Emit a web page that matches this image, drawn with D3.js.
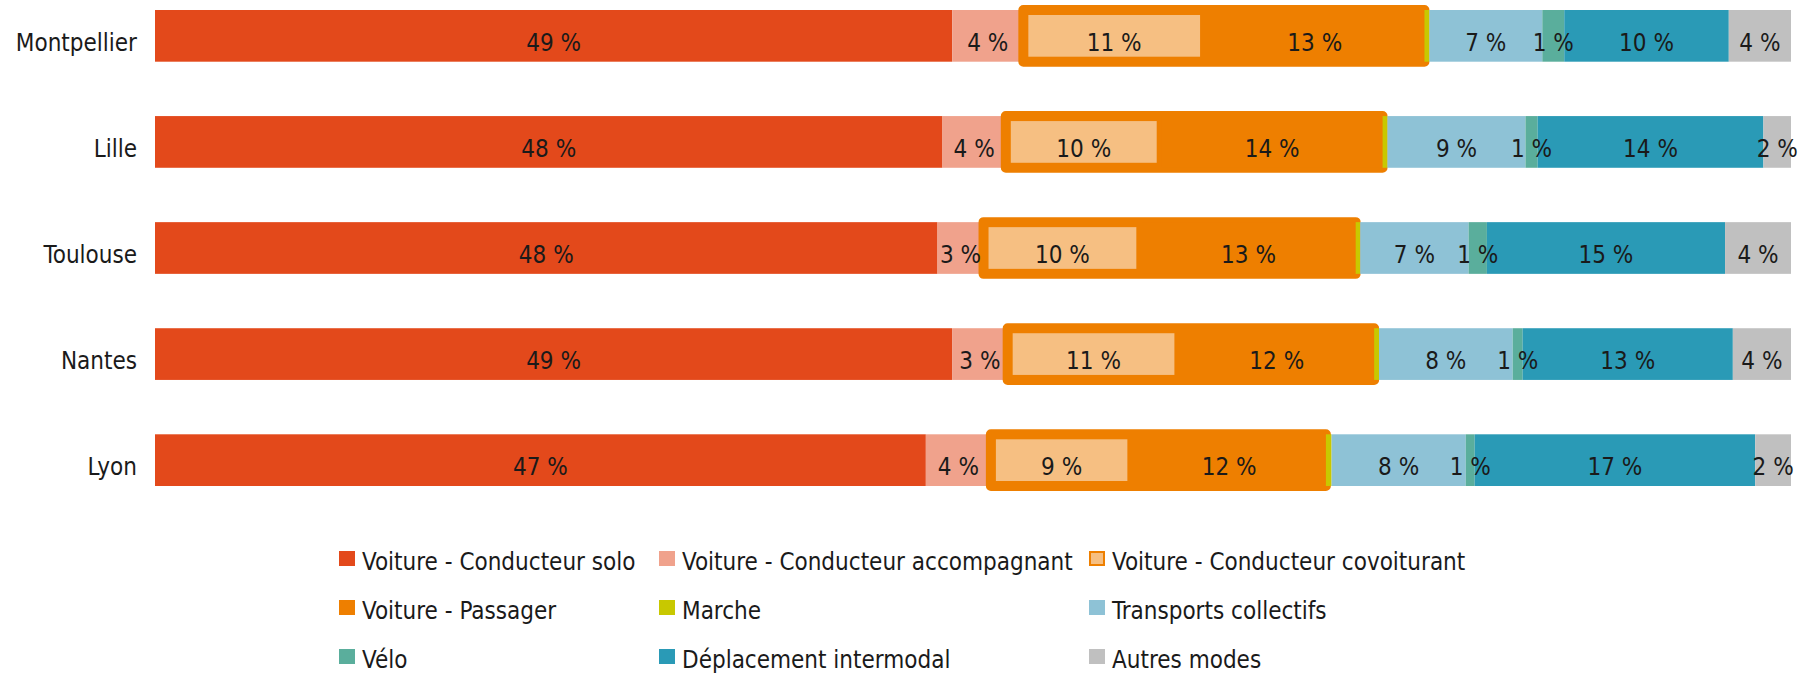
<!DOCTYPE html>
<meta charset="utf-8">
<script src="https://d3js.org/d3.v7.min.js"></script>
<style>
  body { margin: 0; background: #fff; }
  text { font-family: "DejaVu Sans Condensed", "DejaVu Sans", sans-serif; font-stretch: condensed; font-size: 24px; fill: #1a1a1a; }
</style>
<svg id="chart" width="1804" height="673"></svg>
<script>
// cities, top to bottom
const cities = ["Montpellier", "Lille", "Toulouse", "Nantes", "Lyon"];

// transport modes, in stacking order
const modes = [
  "Voiture - Conducteur solo",
  "Voiture - Conducteur accompagnant",
  "Voiture - Conducteur covoiturant",
  "Voiture - Passager",
  "Marche",
  "Transports collectifs",
  "Vélo",
  "Déplacement intermodal",
  "Autres modes"
];

// share of trips per mode (%), one value per city
const solo       = [48.7, 48.49, 48.3, 49.2, 47.4];
const accomp     = [4.34, 3.9, 2.84, 3.43, 4.0];
const covoit     = [11.1, 9.6, 9.74, 10.6, 8.7];
const passager   = [13.4, 13.6, 13.23, 12.02, 11.9];
const marche     = [0.3, 0.3, 0.28, 0.3, 0.35];
const tc         = [6.9, 8.5, 6.69, 8.25, 8.25];
const velo       = [1.34, 0.75, 1.13, 0.62, 0.55];
const intermodal = [10.05, 13.9, 14.7, 12.97, 17.25];
const autres     = [3.8, 1.7, 4.07, 3.59, 2.2];

const series = [solo, accomp, covoit, passager, marche, tc, velo, intermodal, autres];

const colors = ["#e3491b", "#f0a28c", "#f6bf82", "#ee7f00", "#c8c800",
                "#8ec2d6", "#5aae9c", "#2a9ab6", "#c0c0c0"];
const frameColor = "#ee7f00";
const frameW = 10;

const rows = cities.map((c, i) => {
  const r = { city: c };
  modes.forEach((m, j) => r[m] = series[j][i]);
  return r;
});

const stacked = d3.stack().keys(modes).offset(d3.stackOffsetExpand)(rows);

const svg = d3.select("#chart");

const x = d3.scaleLinear().domain([0, 1]).range([155, 1791]);
const y = d3.scaleBand().domain(cities).range([10, 486]).paddingInner(0.5126).paddingOuter(0);

// bars
const bars = svg.append("g");
stacked.forEach((layer, i) => {
  const g = bars.append("g").attr("fill", colors[i]);
  if (i === 2) {
    // orange frame around covoiturant + passager
    const pass = stacked[3];
    g.selectAll("rect.frame")
      .data(layer)
      .join("rect")
        .attr("class", "frame")
        .attr("x", d => x(d[0]))
        .attr("y", d => y(d.data.city))
        .attr("width", (d, k) => x(pass[k][1]) - x(d[0]))
        .attr("height", y.bandwidth())
        .attr("fill", frameColor)
        .attr("stroke", frameColor)
        .attr("stroke-width", frameW)
        .attr("stroke-linejoin", "round");
    g.selectAll("rect.seg")
      .data(layer)
      .join("rect")
        .attr("class", "seg")
        .attr("x", d => x(d[0]) + frameW / 2)
        .attr("y", d => y(d.data.city) + frameW / 2)
        .attr("width", d => x(d[1]) - x(d[0]) - frameW)
        .attr("height", y.bandwidth() - frameW);
    return;
  }
  g.selectAll("rect")
    .data(layer)
    .join("rect")
      .attr("x", d => x(d[0]))
      .attr("y", d => y(d.data.city))
      .attr("width", d => x(d[1]) - x(d[0]))
      .attr("height", y.bandwidth());
});

// value labels
const labels = svg.append("g");
stacked.forEach((layer, i) => {
  labels.selectAll(null)
    .data(layer.filter(d => d.data[layer.key] >= 0.5))
    .join("text")
      .attr("x", d => (x(d[0]) + x(d[1])) / 2)
      .attr("y", d => y(d.data.city) + 40.5)
      .attr("text-anchor", "middle")
      .text(d => Math.round(d.data[layer.key]) + " %");
});

// city axis
const yAxis = svg.append("g").attr("transform", "translate(137,0)");
yAxis.selectAll("text")
  .data(cities)
  .join("text")
    .attr("x", 0)
    .attr("y", d => y(d) + 40.5)
    .attr("text-anchor", "end")
    .text(d => d);

// legend: 3 columns x 3 rows
const legX = [339, 659, 1089];
const legY = [570, 619, 668];
const legend = svg.append("g").selectAll("g")
  .data(modes)
  .join("g")
    .attr("transform", (d, i) => `translate(${legX[i % 3]},${legY[Math.floor(i / 3)]})`);

legend.append("rect")
  .attr("x", (d, i) => i === 2 ? 1 : 0)
  .attr("y", (d, i) => i === 2 ? -18 : -19)
  .attr("width", (d, i) => i === 2 ? 14 : 16)
  .attr("height", (d, i) => i === 2 ? 13 : 15)
  .attr("fill", (d, i) => colors[i])
  .attr("stroke", (d, i) => i === 2 ? frameColor : "none")
  .attr("stroke-width", 2);

legend.append("text")
  .attr("x", 23)
  .attr("y", 0)
  .text(d => d);
</script>
